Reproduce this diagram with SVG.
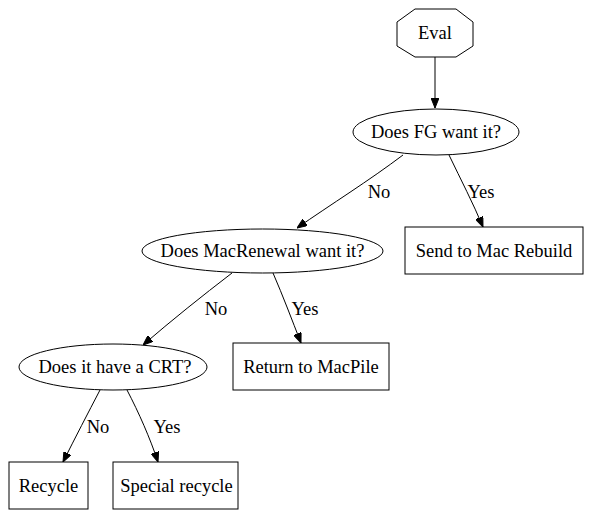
<svg xmlns="http://www.w3.org/2000/svg" width="591" height="516" viewBox="0 0 591 516">
<style>
.shape{fill:#fff;stroke:#000;stroke-width:1}
text{font-family:"Liberation Serif","Times New Roman",serif;font-size:18.5px;fill:#000;text-anchor:middle}
.edge{fill:none;stroke:#000;stroke-width:1}
</style>
<defs>
<marker id="arr" markerWidth="10" markerHeight="8" refX="10" refY="4" orient="auto" markerUnits="userSpaceOnUse">
<path d="M0,0 L10,4 L0,8 Z" fill="#000" stroke="#000"/>
</marker>
</defs>
<rect width="591" height="516" fill="#fff"/>
<g id="connectors">
<path class="edge" d="M435,57 L435,108" marker-end="url(#arr)"/>
<path class="edge" d="M403,155 C370,180 330,205 297,228" marker-end="url(#arr)"/>
<text x="379" y="198">No</text>
<path class="edge" d="M449,155 C461,180 473,203 483,227" marker-end="url(#arr)"/>
<text x="481" y="198">Yes</text>
<path class="edge" d="M232,273 C202,296 172,320 143,345" marker-end="url(#arr)"/>
<text x="216" y="315">No</text>
<path class="edge" d="M273,273 C283,296 292,320 301,343" marker-end="url(#arr)"/>
<text x="305" y="315">Yes</text>
<path class="edge" d="M100,390 C88,413 75,438 63,462" marker-end="url(#arr)"/>
<text x="98" y="433">No</text>
<path class="edge" d="M127,390 C139,413 150,438 158,462" marker-end="url(#arr)"/>
<text x="167" y="433">Yes</text>
</g>
<g id="eval">
<polygon class="shape" points="415,9 456,9 473,22 473,46 456,57 415,57 397,46 397,22"/>
<text x="435" y="39">Eval</text>
</g>
<g id="fg">
<ellipse class="shape" cx="436" cy="132" rx="83" ry="23"/>
<text x="436" y="138">Does FG want it?</text>
</g>
<g id="rebuild">
<rect class="shape" x="405" y="227" width="178" height="47"/>
<text x="494" y="257">Send to Mac Rebuild</text>
</g>
<g id="macrenewal">
<ellipse class="shape" cx="262.5" cy="251" rx="120.5" ry="22"/>
<text x="262.5" y="257">Does MacRenewal want it?</text>
</g>
<g id="macpile">
<rect class="shape" x="233" y="343" width="156" height="47"/>
<text x="311" y="373">Return to MacPile</text>
</g>
<g id="crt">
<ellipse class="shape" cx="113" cy="367" rx="94" ry="23"/>
<text x="115" y="373">Does it have a CRT?</text>
</g>
<g id="recycle">
<rect class="shape" x="9" y="462" width="79" height="47"/>
<text x="48.5" y="492">Recycle</text>
</g>
<g id="special">
<rect class="shape" x="113" y="462" width="125" height="47"/>
<text x="176.5" y="492">Special recycle</text>
</g>
</svg>
